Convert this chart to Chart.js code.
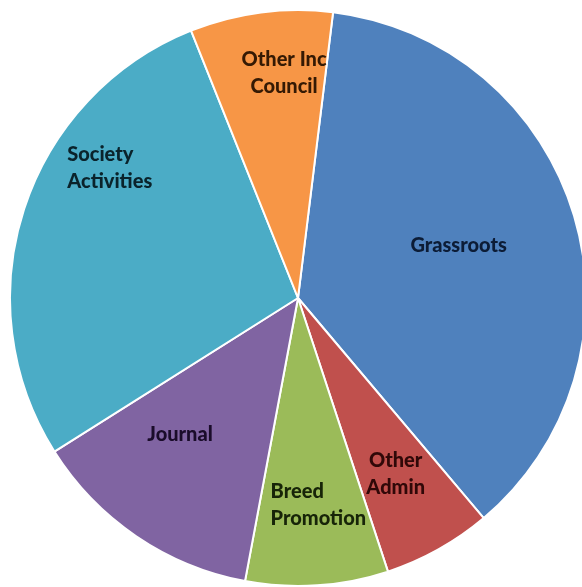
<!DOCTYPE html>
<html>
<head>
<meta charset="utf-8">
<script src="https://cdn.jsdelivr.net/npm/chart.js@4"></script>
<style>
  html, body { margin: 0; padding: 0; background: #fff; overflow: hidden; width: 582px; height: 587px; }
  #wrap { position: absolute; left: 9px; top: 9px; width: 578px; height: 578px; }
</style>
</head>
<body>
<div id="wrap"><canvas id="c"></canvas></div>
<script>
const categories = ['Grassroots', 'Other Admin', 'Breed Promotion', 'Journal', 'Society Activities', 'Other Inc Council'];
const shares = [36.9, 6.1, 8.0, 13.1, 27.9, 8.0];
const labelLines = [['Grassroots'], ['Other', 'Admin'], ['Breed', 'Promotion'], ['Journal'], ['Society', 'Activities'], ['Other Inc', 'Council']];

const sliceColors = ['#4F81BD', '#C0504D', '#9BBB59', '#8064A2', '#4BACC6', '#F79646'];
const textColors = ['#0c1c36', '#300808', '#172408', '#1a0c2a', '#0a232b', '#351a04'];
// label placement relative to each slice: radius fraction and angle offset (deg) from mid-angle
const labelRadius = [0.587, 0.70, 0.722, 0.626, 0.794, 0.782];
const labelAngleOffset = [-1.55, 0.2, -1.8, 6.7, 16.6, 3.85];
const labelAlign = ['center', 'center', 'left', 'center', 'left', 'center'];

const labelPlugin = {
  id: 'sliceLabels',
  afterDatasetsDraw(chart) {
    const ctx = chart.ctx;
    const meta = chart.getDatasetMeta(0);
    ctx.save();
    ctx.font = '900 20px Lato';
    ctx.textBaseline = 'middle';
    const lh = 27;
    meta.data.forEach((arc, i) => {
      const p = arc.getProps(['x', 'y', 'startAngle', 'endAngle', 'outerRadius'], true);
      const mid = (p.startAngle + p.endAngle) / 2 + labelAngleOffset[i] * Math.PI / 180;
      const r = p.outerRadius * labelRadius[i];
      const cx = p.x + Math.cos(mid) * r;
      const cy = p.y + Math.sin(mid) * r;
      const lines = labelLines[i];
      const maxW = Math.max(...lines.map(l => ctx.measureText(l).width));
      ctx.save();
      ctx.beginPath();
      ctx.moveTo(p.x, p.y);
      ctx.arc(p.x, p.y, p.outerRadius, p.startAngle, p.endAngle);
      ctx.closePath();
      ctx.clip();
      ctx.fillStyle = textColors[i];
      lines.forEach((line, k) => {
        const ly = cy + (k - (lines.length - 1) / 2) * lh;
        if (labelAlign[i] === 'left') {
          ctx.textAlign = 'left';
          ctx.fillText(line, cx - maxW / 2, ly);
        } else {
          ctx.textAlign = 'center';
          ctx.fillText(line, cx, ly);
        }
      });
      ctx.restore();
    });
    ctx.restore();
  }
};

new Chart(document.getElementById('c'), {
  type: 'pie',
  data: {
    labels: categories,
    datasets: [{
      data: shares,
      backgroundColor: sliceColors,
      borderColor: '#ffffff',
      borderWidth: 2
    }]
  },
  options: {
    responsive: true,
    maintainAspectRatio: false,
    animation: false,
    rotation: 7,
    layout: { padding: 0 },
    plugins: {
      legend: { display: false },
      tooltip: { enabled: false },
      title: { display: false }
    }
  },
  plugins: [labelPlugin]
});
</script>
</body>
</html>
